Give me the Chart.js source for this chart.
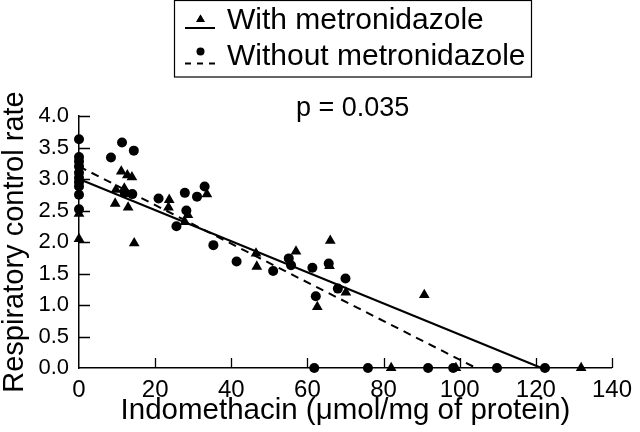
<!DOCTYPE html>
<html>
<head>
<meta charset="utf-8">
<script src="https://cdn.jsdelivr.net/npm/chart.js@4"></script>
<style>
  html, body { margin: 0; padding: 0; background: #fff; }
  #c { display: block; }
</style>
</head>
<body>
<canvas id="c" width="640" height="432"></canvas>
<script>
// ---- Data ----
const withX = [0, 0, 9.5, 9.7, 11.1, 11.9, 12.7, 12.9, 13.9, 14.5, 23.5, 23.7, 27.8, 28.6, 33.6, 46.5, 46.7, 57, 62.6, 65.8, 66, 70.1, 90.7, 82, 99, 131.9];
const withY = [2.45, 2.05, 2.61, 2.83, 3.12, 2.85, 3.06, 2.55, 3.03, 1.98, 2.55, 2.67, 2.32, 2.43, 2.76, 1.82, 1.61, 1.85, 0.97, 1.62, 2.02, 1.20, 1.16, 0, 0, 0];

const withoutX = [0, 0, 0, 0, 0, 0, 0, 0, 0, 0, 8.4, 11.3, 14.4, 12, 14, 20.9, 25.6, 27.8, 28.2, 31, 33, 35.3, 41.4, 51, 55.1, 55.7, 61.3, 65.6, 70, 68, 62.2, 61.8, 75.9, 91.7, 98.3, 109.8, 122.4];
const withoutY = [3.63, 3.35, 3.28, 3.2, 3.1, 3.02, 2.95, 2.88, 2.75, 2.52, 3.34, 3.58, 3.45, 2.78, 2.76, 2.69, 2.25, 2.78, 2.50, 2.72, 2.88, 1.95, 1.69, 1.54, 1.74, 1.63, 1.59, 1.66, 1.42, 1.26, 1.14, 0, 0, 0, 0, 0, 0];

// Regression lines (start / end points)
const withFitX = [0, 121.5];
const withFitY = [3.0, 0];
const withoutFitX = [0, 104.3];
const withoutFitY = [3.2, 0];

const seriesLabels = ['With metronidazole', 'Without metronidazole'];
const pText = 'p = 0.035';
const xTitle = 'Indomethacin (\u03bcmol/mg of protein)';
const yTitle = 'Respiratory control rate';
const xTicks = [0, 20, 40, 60, 80, 100, 120, 140];
const yTicks = [0, 0.5, 1.0, 1.5, 2.0, 2.5, 3.0, 3.5, 4.0];

const pts = (xs, ys) => xs.map((x, i) => ({ x: x, y: ys[i] }));
const FONT = '"Liberation Sans", Arial, Helvetica, sans-serif';

const decorPlugin = {
  id: 'decor',
  beforeDatasetsDraw(chart) {
    const ctx = chart.ctx;
    const xs = chart.scales.x, ys = chart.scales.y;
    const ax = xs.getPixelForValue(0), ay = ys.getPixelForValue(0);
    ctx.save();
    ctx.strokeStyle = '#000';
    ctx.lineWidth = 1.3;
    ctx.beginPath();
    yTicks.forEach(v => {
      if (v === 0) return;
      const py = Math.round(ys.getPixelForValue(v)) + 0.5;
      ctx.moveTo(ax, py); ctx.lineTo(ax + 11, py);
    });
    xTicks.forEach(v => {
      if (v === 0) return;
      const px = Math.round(xs.getPixelForValue(v)) + 0.5;
      ctx.moveTo(px, ay); ctx.lineTo(px, ay - 10);
    });
    ctx.stroke();
    ctx.restore();
  },
  afterDraw(chart) {
    const ctx = chart.ctx;
    ctx.save();
    // legend box
    ctx.strokeStyle = '#000';
    ctx.lineWidth = 1.2;
    ctx.strokeRect(174.5, 0.5, 357, 76.5);
    // item 1: solid line + triangle
    ctx.lineWidth = 2;
    ctx.beginPath(); ctx.moveTo(185, 28); ctx.lineTo(215, 28); ctx.stroke();
    ctx.fillStyle = '#000';
    Chart.helpers.drawPoint(ctx, { pointStyle: 'triangle', radius: 5, rotation: 0, borderWidth: 0 }, 200.5, 19.5);
    ctx.fill();
    // item 2: dashed line + circle
    ctx.setLineDash([6, 6]);
    ctx.beginPath(); ctx.moveTo(185, 63.5); ctx.lineTo(217, 63.5); ctx.stroke();
    ctx.setLineDash([]);
    ctx.beginPath(); ctx.arc(200.5, 51.5, 4, 0, Math.PI * 2); ctx.fill();
    // texts
    ctx.font = '30px ' + FONT;
    ctx.textAlign = 'left';
    ctx.textBaseline = 'alphabetic';
    ctx.fillText(seriesLabels[0], 227, 29);
    ctx.fillText(seriesLabels[1], 227, 65);
    ctx.font = '27px ' + FONT;
    ctx.fillText(pText, 296, 116);
    ctx.restore();
  }
};

new Chart(document.getElementById('c'), {
  type: 'scatter',
  data: {
    datasets: [
      {
        label: seriesLabels[0],
        data: pts(withX, withY),
        pointStyle: 'triangle',
        pointRadius: 6.2,
        backgroundColor: '#000',
        borderColor: '#000',
        borderWidth: 0,
        clip: false
      },
      {
        label: seriesLabels[1],
        data: pts(withoutX, withoutY),
        pointStyle: 'circle',
        pointRadius: 5,
        backgroundColor: '#000',
        borderColor: '#000',
        borderWidth: 0,
        clip: false
      },
      {
        label: 'fit with',
        data: pts(withFitX, withFitY),
        showLine: true,
        pointRadius: 0,
        borderColor: '#000',
        borderWidth: 2,
        clip: false
      },
      {
        label: 'fit without',
        data: pts(withoutFitX, withoutFitY),
        showLine: true,
        pointRadius: 0,
        borderColor: '#000',
        borderWidth: 2,
        borderDash: [8, 6],
        clip: false
      }
    ]
  },
  options: {
    responsive: false,
    animation: false,
    devicePixelRatio: 1,
    layout: { padding: { top: 116, right: 19, left: 0, bottom: 0 } },
    plugins: { legend: { display: false }, tooltip: { enabled: false } },
    scales: {
      x: {
        type: 'linear',
        min: 0, max: 140,
        afterFit: s => { s.height = 64; },
        afterBuildTicks: s => { s.ticks = xTicks.map(v => ({ value: v })); },
        grid: { display: false, drawTicks: false },
        border: { display: true, color: '#000', width: 1.5 },
        ticks: { color: '#000', padding: 8, maxRotation: 0, font: { family: FONT, size: 24 }, callback: v => String(v) },
        title: { display: true, text: xTitle, color: '#000', font: { family: FONT, size: 29.5, lineHeight: 1 }, padding: { top: 0, bottom: 6 } }
      },
      y: {
        type: 'linear',
        min: 0, max: 4,
        afterFit: s => { s.width = 79; },
        afterBuildTicks: s => { s.ticks = yTicks.map(v => ({ value: v })); },
        grid: { display: false, drawTicks: false },
        border: { display: true, color: '#000', width: 1.5 },
        ticks: { color: '#000', padding: 10, font: { family: FONT, size: 22 }, callback: v => Number(v).toFixed(1) },
        title: { display: true, text: yTitle, color: '#000', font: { family: FONT, size: 29, lineHeight: 1 }, padding: { top: 0, bottom: 0 } }
      }
    }
  },
  plugins: [decorPlugin]
});
</script>
</body>
</html>
